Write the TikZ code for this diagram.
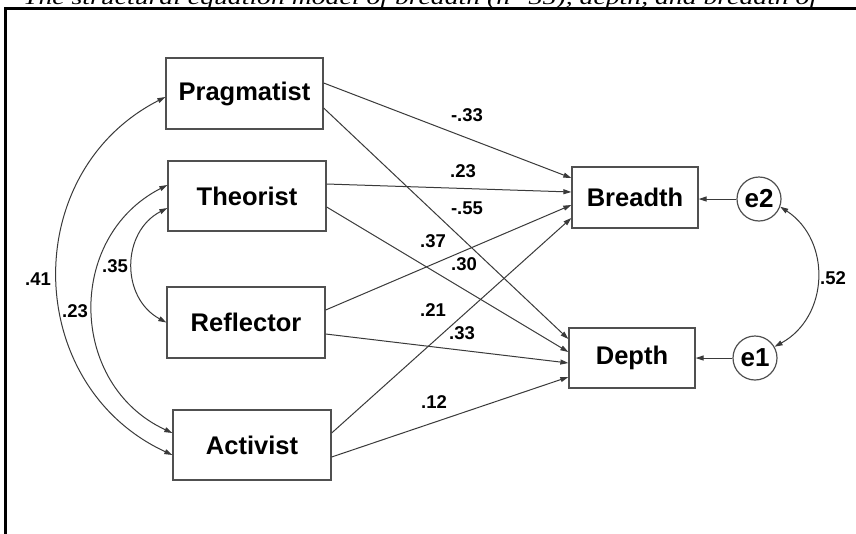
\documentclass[tikz,border=0pt]{standalone}
\usepackage{fontspec}
\usepackage{graphicx}
\setmainfont{Liberation Sans}
\newfontfamily\capfont{Liberation Serif}
\usetikzlibrary{arrows.meta,calc}
\definecolor{linegray}{HTML}{3A3A3A}
\definecolor{boxgray}{HTML}{505050}
\begin{document}
\begin{tikzpicture}[x=1pt,y=-1pt,
  box/.style={draw=boxgray, line width=1.3pt, fill=white, minimum width=158pt, minimum height=70pt,
              font=\fontsize{25.5pt}{30pt}\selectfont\bfseries, text=black, inner sep=0pt},
  errc/.style={draw=boxgray, line width=1.2pt, fill=white, circle, minimum size=44pt, inner sep=0pt,
              font=\fontsize{26pt}{30pt}\selectfont\bfseries},
  tip/.tip={Triangle[length=8pt,width=5pt]},
  path/.style={draw=linegray, line width=1pt, -tip},
  cov/.style={draw=linegray, line width=1pt, tip-tip, looseness=1.18},
  lab/.style={font=\fontsize{18.5pt}{22pt}\selectfont\bfseries, inner sep=0pt, text=black}]
\useasboundingbox (0,0) rectangle (856,533);
\fill[white] (0,0) rectangle (856,533);
% cut-off caption at the top
\begin{scope}
  \clip (0,0) rectangle (856,7);
  \node[anchor=base west, inner sep=0pt, font=\capfont\itshape\fontsize{21pt}{25pt}\selectfont] (cap) at (23,4.5)
    {\resizebox{794pt}{\height}{The structural equation model of breadth (n=35), depth, and breadth of}};
\end{scope}
% frame
\draw[line width=3pt, line cap=rect] (5.5,533) -- (5.5,8.5) -- (856,8.5);
% nodes
\node[box, minimum width=157pt, minimum height=71pt] (prag) at (244.5,93.5) {Pragmatist};
\node[box] (theo) at (247,196) {Theorist};
\node[box, minimum height=71pt] (refl) at (246,322.5) {Reflector};
\node[box] (act) at (252,445) {Activist};
\node[box, minimum width=126pt, minimum height=61pt] (bre) at (635,197.5) {Breadth};
\node[box, minimum width=126pt, minimum height=60pt] (dep) at (632,358) {Depth};
\node[errc] (e2) at (759,199) {e2};
\node[errc] (e1) at (755,358) {e1};
% paths to Breadth
\draw[path] ($(prag.east)+(0,-10.5)$) -- ($(bre.west)+(0,-19.5)$);
\draw[path] ($(theo.east)+(0,-12)$) -- ($(bre.west)+(0,-5.5)$);
\draw[path] ($(refl.east)+(0,-12.5)$) -- ($(bre.west)+(0,7.5)$);
\draw[path] ($(act.east)+(0,-12)$) -- ($(bre.west)+(0,20.5)$);
% paths to Depth
\draw[path] ($(prag.east)+(0,14.5)$) -- ($(dep.west)+(0,-19)$);
\draw[path] ($(theo.east)+(0,11)$) -- ($(dep.west)+(0,-6)$);
\draw[path] ($(refl.east)+(0,11.5)$) -- ($(dep.west)+(0,5)$);
\draw[path] ($(act.east)+(0,12)$) -- ($(dep.west)+(0,19)$);
% error terms
\draw[path] (e2.west) -- (e2.west -| bre.east);
\draw[path] (e1.west) -- (e1.west -| dep.east);
\draw[cov, looseness=1.13] (e2.-20) to[bend left=59] (e1.30);
% covariances on the left
\draw[cov] ($(prag.west)+(0,3.5)$) to[bend right=64] ($(act.west)+(0,10)$);
\draw[cov] ($(theo.west)+(0,-11)$) to[bend right=64] ($(act.west)+(0,-12)$);
\draw[cov, looseness=1.16] ($(theo.west)+(0,12)$) to[bend right=62] (refl.west);
% labels
\node[lab] (l1) at (467,115) {-.33};
\node[lab] (l2) at (463,171) {.23};
\node[lab] (l3) at (467,208) {-.55};
\node[lab] (l4) at (433,241) {.37};
\node[lab] (l5) at (464,264) {.30};
\node[lab] (l6) at (433,310) {.21};
\node[lab] (l7) at (462,333) {.33};
\node[lab] (l8) at (434,402) {.12};
\node[lab] (l9) at (38,279) {.41};
\node[lab] (l10) at (115,266) {.35};
\node[lab] (l11) at (75,311) {.23};
\node[lab] (l12) at (833,278) {.52};
\end{tikzpicture}
\end{document}
